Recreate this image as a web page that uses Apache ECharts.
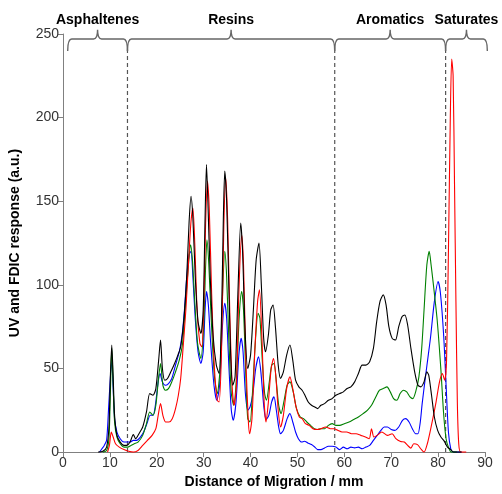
<!DOCTYPE html>
<html>
<head>
<meta charset="utf-8">
<script src="https://cdn.jsdelivr.net/npm/echarts@6/dist/echarts.min.js"></script>
<style>html,body{margin:0;padding:0;background:#fff}#c{width:502px;height:494px}</style>
</head>
<body>
<div id="c"></div>
<script>
// Distance of migration (mm), response (a.u.) pairs
var blackPts = [[7.5,0],[8.5,0.5],[9.3,3],[9.8,15],[10.1,45],[10.4,64],[10.7,45],[11.0,22],[11.5,10],[12.2,6],[13.0,4],[13.6,4],[14.3,6],[15.0,10.5],[15.5,8],[16.2,11],[17.0,15],[17.8,24],[18.5,35],[19.2,34],[19.8,38],[20.4,55],[20.8,67],[21.2,50],[21.7,43],[22.3,44],[23.0,48],[23.8,53],[24.5,58],[25.1,63],[25.8,80],[26.4,106],[26.9,138],[27.3,153],[27.7,140],[28.2,105],[28.8,78],[29.4,71],[29.9,85],[30.3,140],[30.6,172],[30.9,150],[31.4,105],[32.0,70],[32.7,52],[33.3,47],[33.8,80],[34.2,140],[34.5,168],[34.9,150],[35.4,95],[35.8,55],[36.2,40],[36.7,45],[37.3,95],[37.9,137],[38.3,120],[38.8,75],[39.4,50],[40.0,58],[40.6,85],[41.2,115],[41.8,125],[42.3,100],[42.8,68],[43.2,60],[43.8,70],[44.3,85],[44.8,88],[45.3,75],[45.9,52],[46.4,44],[47.0,48],[47.7,58],[48.4,64],[49.0,55],[49.6,43],[50.3,39],[51.0,37],[51.6,34],[52.3,30],[53.0,28],[53.7,27],[54.3,26],[55.0,28],[55.8,29],[56.6,31],[57.4,32],[58.2,34],[59.0,35],[59.8,36],[60.6,38],[61.4,39],[62.2,42],[63.0,47],[63.8,52],[64.6,52],[65.4,54],[66.2,62],[66.9,78],[67.6,90],[68.3,94],[68.9,88],[69.5,75],[70.2,68],[70.9,67],[71.6,75],[72.3,81],[72.9,82],[73.5,76],[74.2,62],[75.0,48],[75.7,40],[76.3,39],[77.0,42],[77.6,48],[78.0,46],[78.6,34],[79.2,21],[79.9,13],[80.6,9],[81.2,7],[82.0,3],[82.7,1.5],[83.3,0],[85,0]];

var redPts = [[9.5,0],[9.9,4],[10.3,12],[10.7,9],[11.2,5],[12.0,3],[13.0,1.5],[14.0,0.5],[15.0,0],[16.0,1],[17.0,4],[18.0,7],[19.0,10],[19.8,14],[20.3,22],[20.8,29],[21.3,22],[21.9,18],[22.6,18],[23.3,20],[24.0,26],[24.6,34],[25.1,44],[25.6,62],[26.2,85],[26.8,115],[27.3,138],[27.7,146],[28.1,125],[28.6,85],[29.2,65],[29.6,63],[30.0,85],[30.4,135],[30.8,162],[31.2,145],[31.7,95],[32.3,50],[32.9,31],[33.3,30],[33.8,60],[34.3,135],[34.7,164],[35.1,140],[35.6,80],[36.1,38],[36.5,28],[37.0,40],[37.5,95],[38.1,130],[38.5,112],[39.0,55],[39.5,20],[39.8,11],[40.3,20],[40.9,60],[41.5,90],[41.9,97],[42.4,70],[42.9,30],[43.3,18],[43.8,30],[44.4,50],[44.9,56],[45.4,45],[45.9,25],[46.4,15],[47.0,22],[47.7,38],[48.4,45],[49.0,38],[49.7,27],[50.4,21],[51.0,20],[51.7,17],[52.5,16],[53.3,14],[54.2,13.5],[55.0,14],[56.0,15],[57.0,14],[57.8,14],[58.6,13],[59.5,12],[60.5,12],[61.5,11],[62.5,11],[63.5,10],[64.5,9],[65.3,8],[65.8,14],[66.3,9],[67.0,10],[68.0,12],[69.2,10],[70.2,11],[71.0,8],[72.0,6.3],[72.8,6],[73.5,4],[74.2,2.4],[74.8,5],[75.6,4.5],[76.3,2],[77.0,0],[77.7,5],[78.5,15],[79.5,29],[80.3,42],[80.9,47],[81.4,43],[81.8,55],[82.2,120],[82.6,200],[82.9,235],[83.2,225],[83.5,160],[83.8,90],[84.1,30],[84.4,5],[84.8,0],[86,0]];

var greenPts = [[8.5,0],[9.3,1],[9.8,8],[10.1,35],[10.4,62],[10.7,40],[11.0,18],[11.5,9],[12.2,5],[13.0,3],[13.8,3],[14.5,4],[15.2,5],[16.0,6],[17.0,10],[17.8,17],[18.5,24],[19.2,22],[19.8,28],[20.4,45],[20.8,53],[21.3,40],[21.8,37],[22.5,38],[23.2,42],[24.0,48],[24.8,55],[25.5,65],[26.1,88],[26.7,110],[27.2,124],[27.6,115],[28.1,90],[28.7,65],[29.4,56],[30.0,75],[30.4,110],[30.7,127],[31.1,112],[31.6,80],[32.3,45],[32.9,35],[33.5,50],[34.1,100],[34.5,120],[34.9,105],[35.4,65],[35.9,35],[36.4,28],[37.0,45],[37.6,82],[38.1,96],[38.5,85],[39.0,45],[39.4,20],[39.9,18],[40.4,35],[41.0,65],[41.6,83],[42.0,80],[42.5,55],[43.0,35],[43.4,31],[44.0,42],[44.5,52],[45.0,53],[45.5,42],[46.0,28],[46.5,23],[47.1,30],[47.8,40],[48.4,42],[49.1,36],[49.8,26],[50.6,21],[51.3,20],[52.0,18],[52.8,16],[53.6,14],[54.3,13.5],[55.0,14],[55.8,14],[56.6,16],[57.4,17],[58.2,16],[59.0,16],[60.0,17],[61.0,18],[62.0,19.5],[63.0,21],[64.0,23],[64.9,25],[65.8,28],[66.7,33],[67.5,37],[68.3,38],[69.1,39],[69.8,36],[70.5,32],[71.2,31],[71.9,35],[72.6,37],[73.3,36],[74.0,33],[74.6,32],[75.3,37],[75.9,45],[76.5,62],[77.0,85],[77.6,112],[78.1,120],[78.5,112],[79.0,100],[79.8,79],[80.6,49],[81.2,22],[81.7,8],[82.2,3],[82.8,0],[84,0]];

var bluePts = [[7.8,0],[8.3,2],[8.8,4],[9.3,7],[9.7,25],[10.0,40],[10.4,55],[10.7,38],[11.0,20],[11.5,12],[12.2,8],[13.0,6],[13.7,6],[14.3,6],[15.0,7],[15.7,7],[16.5,9],[17.2,12],[17.9,17],[18.6,22],[19.2,22],[19.7,28],[20.3,42],[20.7,47],[21.2,42],[21.8,40],[22.5,41],[23.2,44],[24.0,52],[24.8,60],[25.4,70],[25.9,85],[26.4,105],[26.9,118],[27.3,120],[27.7,105],[28.2,80],[28.8,60],[29.4,53],[29.9,60],[30.3,85],[30.6,96],[31.0,88],[31.5,65],[32.2,40],[32.8,31],[33.4,40],[34.0,75],[34.5,89],[34.9,80],[35.4,50],[35.9,25],[36.3,19],[36.9,30],[37.5,58],[38.0,68],[38.4,60],[38.9,35],[39.4,25],[39.9,27],[40.5,35],[41.1,50],[41.7,57],[42.2,48],[42.8,28],[43.3,19.5],[43.9,22],[44.5,30],[45.0,33],[45.5,25],[46.0,15],[46.4,11],[47.0,13],[47.8,20],[48.4,23],[49.0,18],[49.6,12],[50.2,8],[50.9,6],[51.5,6.5],[52.2,5.5],[53.0,4.5],[53.7,3],[54.3,1.5],[55.0,1.5],[55.8,2.5],[56.6,3.5],[57.4,3.5],[58.2,3],[59.0,1.5],[59.8,3],[60.6,2],[61.4,3],[62.2,2.5],[63.0,3],[63.8,2],[64.6,3],[65.4,4],[66.2,7],[67.0,10],[67.8,13],[68.5,15],[69.2,15],[70.0,13.5],[70.8,13],[71.6,15],[72.4,19],[73.1,20],[73.8,18],[74.5,14],[75.2,11],[75.7,11],[76.2,18],[76.6,29],[77.3,45],[77.9,58],[78.4,69],[79.2,90],[80.0,102],[80.5,95],[81.2,69],[81.7,40],[82.2,12],[82.7,2],[83.2,0],[85,0]];

// Fraction regions: [start, end, label]
var regionNames = ['Asphaltenes', 'Resins', 'Aromatics', 'Saturates'];
var regionStarts = [1.0, 13.75, 57.95, 81.6];
var regionEnds = [13.75, 57.95, 81.6, 90.5];
var dividerPositions = [13.75, 57.95, 81.6];

var xTicks = [0, 10, 20, 30, 40, 50, 60, 70, 80, 90];
var yTicks = [0, 50, 100, 150, 200, 250];

var braceLevel = 247, braceEnd = 239.8, braceTip = 252.5, labelLevel = 258.5;

var regionData = regionNames.map(function (n, i) { return [regionStarts[i], regionEnds[i], n]; });
var dividerData = dividerPositions.map(function (x) { return [x]; });

var chart = echarts.init(document.getElementById('c'));
var lineSeries = function (name, color, pts) {
  return {
    name: name, type: 'line', data: pts, showSymbol: false, smooth: 0.25,
    lineStyle: { color: color, width: 1.1 }, itemStyle: { color: color },
    animation: false, silent: true
  };
};

chart.setOption({
  animation: false,
  grid: { left: 62, right: 17, top: 34, bottom: 38 },
  xAxis: {
    type: 'value', min: 0, max: 90, interval: 10,
    name: 'Distance of Migration / mm', nameLocation: 'middle', nameGap: 20,
    nameTextStyle: { fontFamily: 'Liberation Sans', fontWeight: 'bold', fontSize: 14, color: '#000' },
    axisLine: { lineStyle: { color: '#808080', width: 1 } },
    axisTick: { lineStyle: { color: '#808080' }, length: 5 },
    axisLabel: { fontFamily: 'Liberation Sans', fontSize: 14, color: '#333', margin: 4 },
    splitLine: { show: false }
  },
  yAxis: {
    type: 'value', min: 0, max: 250, interval: 50,
    name: 'UV and FDIC response (a.u.)', nameLocation: 'middle', nameGap: 41,
    nameTextStyle: { fontFamily: 'Liberation Sans', fontWeight: 'bold', fontSize: 14, color: '#000' },
    axisLine: { show: true, lineStyle: { color: '#808080', width: 1 } },
    axisTick: { show: true, lineStyle: { color: '#808080' }, length: 5 },
    axisLabel: { fontFamily: 'Liberation Sans', fontSize: 14, color: '#333', margin: 4 },
    splitLine: { show: false }
  },
  series: [
    {
      type: 'custom', data: dividerData, silent: true, clip: false,
      renderItem: function (params, api) {
        var p0 = api.coord([api.value(0), 0]);
        var p1 = api.coord([api.value(0), braceEnd]);
        return { type: 'line', shape: { x1: p0[0], y1: p0[1], x2: p1[0], y2: p1[1] },
          style: { stroke: '#555', lineWidth: 1.2, lineDash: [4, 3] } };
      }
    },
    lineSeries('Blue', '#0000ff', bluePts),
    lineSeries('Green', '#008000', greenPts),
    lineSeries('Red', '#ff0000', redPts),
    lineSeries('Black', '#000000', blackPts),
    {
      type: 'custom', data: regionData, silent: true, clip: false,
      renderItem: function (params, api) {
        var a = api.coord([api.value(0), braceLevel]);
        var b = api.coord([api.value(1), braceLevel]);
        var m = api.coord([(api.value(0) + api.value(1)) / 2, braceLevel]);
        var yEnd = api.coord([0, braceEnd])[1];
        var yTip = api.coord([0, braceTip])[1];
        var yL = api.coord([0, labelLevel])[1];
        var y = a[1], r = 4;
        var d = 'M' + a[0] + ' ' + yEnd + ' Q' + a[0] + ' ' + y + ' ' + (a[0] + r) + ' ' + y +
          ' L' + (m[0] - r) + ' ' + y + ' Q' + m[0] + ' ' + y + ' ' + m[0] + ' ' + yTip +
          ' Q' + m[0] + ' ' + y + ' ' + (m[0] + r) + ' ' + y +
          ' L' + (b[0] - r) + ' ' + y + ' Q' + b[0] + ' ' + y + ' ' + b[0] + ' ' + yEnd;
        return { type: 'group', children: [
          { type: 'path', shape: { pathData: d }, style: { stroke: '#666', lineWidth: 1.4, fill: null } },
          { type: 'text', x: m[0], y: yL, style: { text: api.value(2), fontFamily: 'Liberation Sans',
            fontWeight: 'bold', fontSize: 14, fill: '#000', align: 'center', verticalAlign: 'middle' } }
        ] };
      }
    }
  ]
});
</script>
</body>
</html>
